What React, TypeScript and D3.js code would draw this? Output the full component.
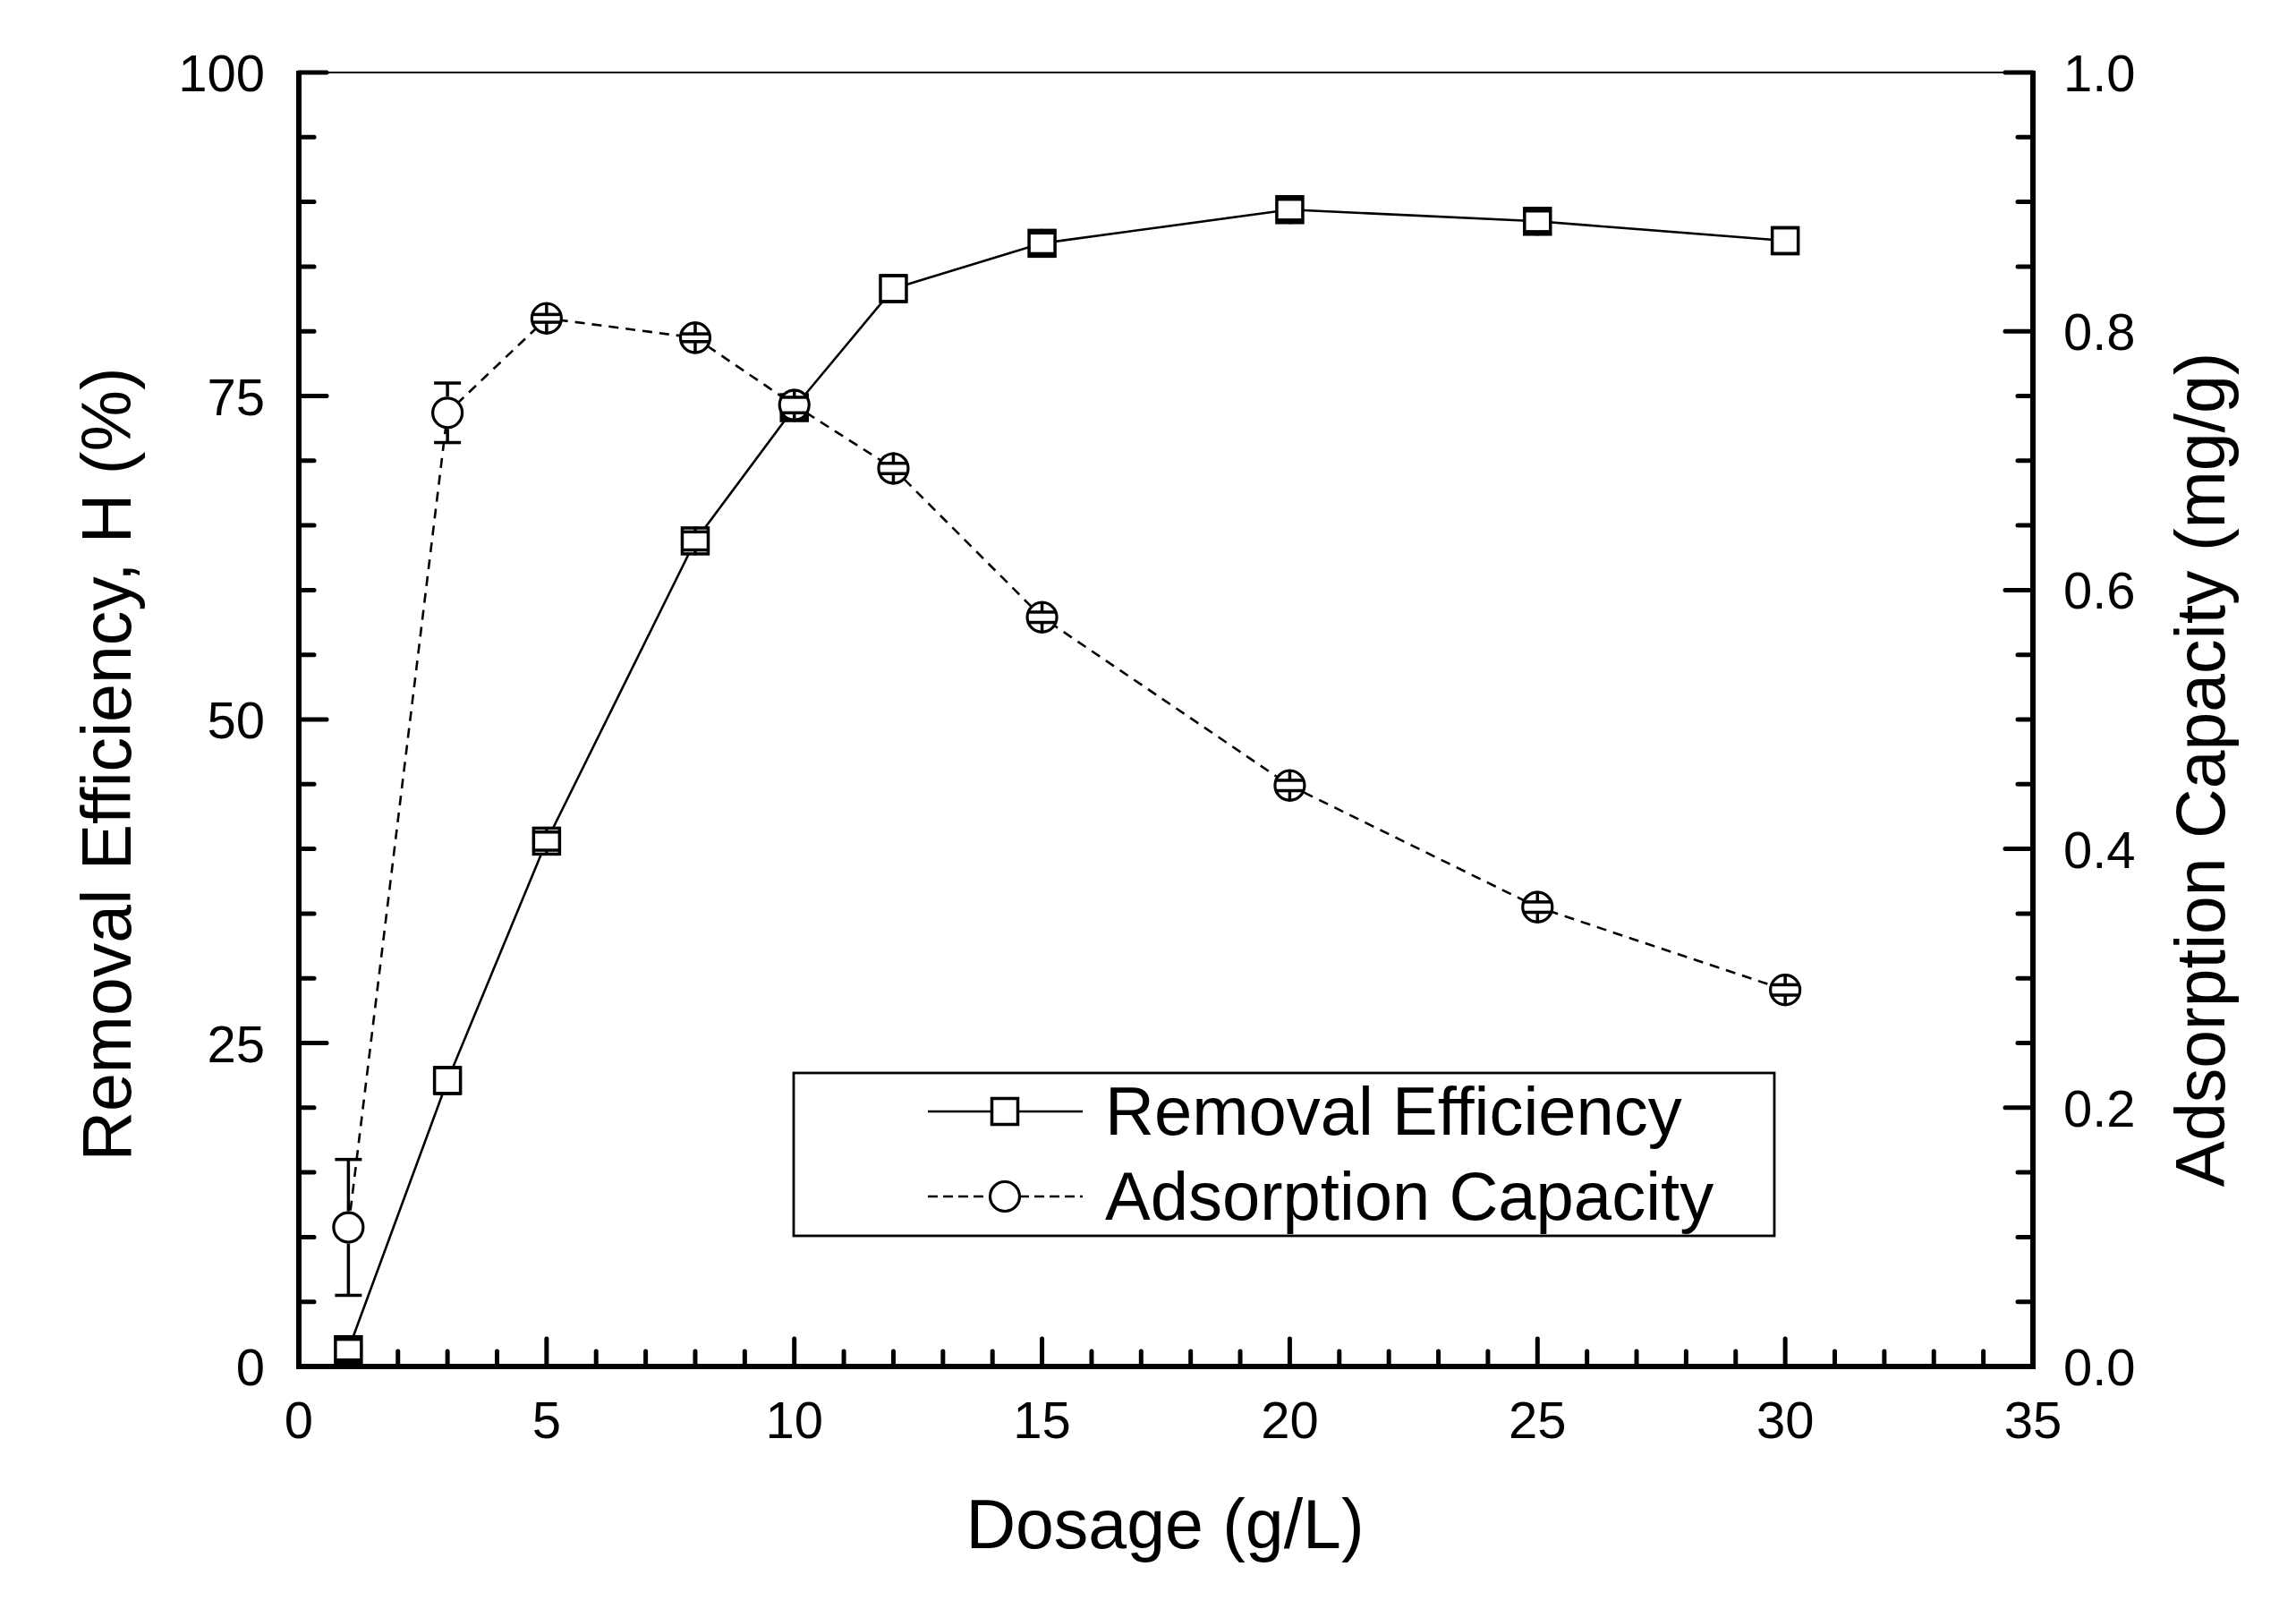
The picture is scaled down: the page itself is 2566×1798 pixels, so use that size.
import * as d3 from 'd3'

// dosage (g/L)
const dosage = [1, 3, 5, 8, 10, 12, 15, 20, 25, 30]
// removal efficiency H (%)
const removal = [1.3, 22.1, 40.6, 63.8, 74.1, 83.3, 86.8, 89.4, 88.5, 87.0]
const removalErr = [0.8, 1.0, 0.7, 0.7, 0.8, 1.0, 0.8, 0.8, 0.8, 1.0]
// adsorption capacity (mg/g)
const capacity = [0.1075, 0.737, 0.81, 0.795, 0.743, 0.694, 0.579, 0.449, 0.355, 0.291]
const capacityErr = [0.0525, 0.023, 0.003, 0.003, 0.006, 0.004, 0.004, 0.004, 0.004, 0.004]

const xTickLabels = ['0', '5', '10', '15', '20', '25', '30', '35']
const leftTickLabels = ['0', '25', '50', '75', '100']
const rightTickLabels = ['0.0', '0.2', '0.4', '0.6', '0.8', '1.0']

const W = 2566
const H = 1798
const FONT = "'Liberation Sans', Arial, sans-serif"

const x = d3.scaleLinear().domain([0, 35]).range([334, 2272])
const yL = d3.scaleLinear().domain([0, 100]).range([1527, 81])
const yR = d3.scaleLinear().domain([0, 1]).range([1527, 81])

const SQ = 29 // square side
const CR = 16.5 // circle radius

const App = () => {
  const remPts = dosage.map((d, i) => ({ x: d, y: removal[i], e: removalErr[i] }))
  const capPts = dosage.map((d, i) => ({ x: d, y: capacity[i], e: capacityErr[i] }))

  const remLine = d3
    .line<{ x: number; y: number }>()
    .x((d) => x(d.x))
    .y((d) => yL(d.y))
  const capLine = d3
    .line<{ x: number; y: number }>()
    .x((d) => x(d.x))
    .y((d) => yR(d.y))

  const [x0, x1] = x.range()
  const [yb, yt] = yL.range()

  const xMinor = d3.range(0, 36, 1)
  const yMinor = d3.range(0, 101, 5)

  // error bar: from marker edge to cap
  const errBar = (cx: number, cy: number, top: number, bot: number, edge: number, key: string) => (
    <g key={key} stroke="#000" strokeWidth={3.5} fill="none">
      <line x1={cx} x2={cx} y1={cy - edge} y2={top} />
      <line x1={cx} x2={cx} y1={cy + edge} y2={bot} />
      <line x1={cx - 15} x2={cx + 15} y1={top} y2={top} />
      <line x1={cx - 15} x2={cx + 15} y1={bot} y2={bot} />
    </g>
  )

  return (
    <svg
      width={W}
      height={H}
      viewBox={`0 0 ${W} ${H}`}
      style={{ position: 'absolute', left: 0, top: 0, background: '#fff' }}
      fontFamily={FONT}
    >
      <rect x={0} y={0} width={W} height={H} fill="#fff" />

      {/* top frame */}
      <line x1={x0} x2={x1} y1={yt} y2={yt} stroke="#000" strokeWidth={2} />

      {/* x ticks */}
      {xMinor.map((v) => {
        const major = v % 5 === 0
        return (
          <line
            key={'xt' + v}
            x1={x(v)}
            x2={x(v)}
            y1={yb}
            y2={yb - (major ? 31 : 17)}
            stroke="#000"
            strokeWidth={5}
            strokeLinecap="round"
          />
        )
      })}
      {xTickLabels.map((t) => (
        <text key={'xl' + t} x={x(+t)} y={1607} fontSize={58} textAnchor="middle">
          {t}
        </text>
      ))}

      {/* left ticks */}
      {yMinor.map((v) => {
        const major = v % 25 === 0
        return (
          <line
            key={'yl' + v}
            x1={x0}
            x2={x0 + (major ? 31 : 17)}
            y1={yL(v)}
            y2={yL(v)}
            stroke="#000"
            strokeWidth={5}
            strokeLinecap="round"
          />
        )
      })}
      {leftTickLabels.map((t) => (
        <text key={'ll' + t} x={296} y={yL(+t) + 21} fontSize={58} textAnchor="end">
          {t}
        </text>
      ))}

      {/* right ticks */}
      {yMinor.map((v) => {
        const major = v % 20 === 0
        return (
          <line
            key={'yr' + v}
            x1={x1}
            x2={x1 - (major ? 31 : 17)}
            y1={yR(v / 100)}
            y2={yR(v / 100)}
            stroke="#000"
            strokeWidth={5}
            strokeLinecap="round"
          />
        )
      })}
      {rightTickLabels.map((t) => (
        <text key={'rl' + t} x={2306} y={yR(+t) + 21} fontSize={58} textAnchor="start">
          {t}
        </text>
      ))}

      {/* axes */}
      <path
        d={`M${x0},${yt - 2}V${yb}H${x1}V${yt - 2}`}
        fill="none"
        stroke="#000"
        strokeWidth={6}
        strokeLinejoin="miter"
      />

      {/* removal efficiency */}
      <path d={remLine(remPts) || ''} fill="none" stroke="#000" strokeWidth={2.6} />
      {remPts.map((p, i) => (
        <rect
          key={'rs' + i}
          x={x(p.x) - SQ / 2}
          y={yL(p.y) - SQ / 2}
          width={SQ}
          height={SQ}
          fill="#fff"
          stroke="#000"
          strokeWidth={3.5}
        />
      ))}
      {remPts.map((p, i) =>
        errBar(x(p.x), yL(p.y), yL(p.y + p.e), yL(p.y - p.e), SQ / 2 + 1.5, 're' + i)
      )}

      {/* adsorption capacity */}
      <path
        d={capLine(capPts) || ''}
        fill="none"
        stroke="#000"
        strokeWidth={2.6}
        strokeDasharray="11,8"
      />
      {capPts.map((p, i) => (
        <circle
          key={'cs' + i}
          cx={x(p.x)}
          cy={yR(p.y)}
          r={CR}
          fill="#fff"
          stroke="#000"
          strokeWidth={3.2}
        />
      ))}
      {capPts.map((p, i) =>
        errBar(x(p.x), yR(p.y), yR(p.y + p.e), yR(p.y - p.e), CR + 1.5, 'ce' + i)
      )}

      {/* legend */}
      <rect x={887} y={1199} width={1096} height={182} fill="#fff" stroke="#000" strokeWidth={2.8} />
      <line x1={1037} x2={1210} y1={1242} y2={1242} stroke="#000" strokeWidth={2.6} />
      <rect x={1123 - SQ / 2} y={1242 - SQ / 2} width={SQ} height={SQ} fill="#fff" stroke="#000" strokeWidth={3.5} />
      <text x={1235} y={1268} fontSize={76}>
        Removal Efficiency
      </text>
      <line x1={1037} x2={1210} y1={1337} y2={1337} stroke="#000" strokeWidth={2.6} strokeDasharray="11,6" />
      <circle cx={1123} cy={1337} r={CR} fill="#fff" stroke="#000" strokeWidth={3.2} />
      <text x={1235} y={1363} fontSize={76}>
        Adsorption Capacity
      </text>

      {/* axis titles */}
      <text x={1302} y={1730} fontSize={77} textAnchor="middle">
        Dosage (g/L)
      </text>
      <text transform="translate(146,854) rotate(-90)" fontSize={77} textAnchor="middle">
        Removal Efficiency, H (%)
      </text>
      <text transform="translate(2486,860) rotate(-90)" fontSize={77} textAnchor="middle">
        Adsorption Capacity (mg/g)
      </text>
    </svg>
  )
}

export default App
